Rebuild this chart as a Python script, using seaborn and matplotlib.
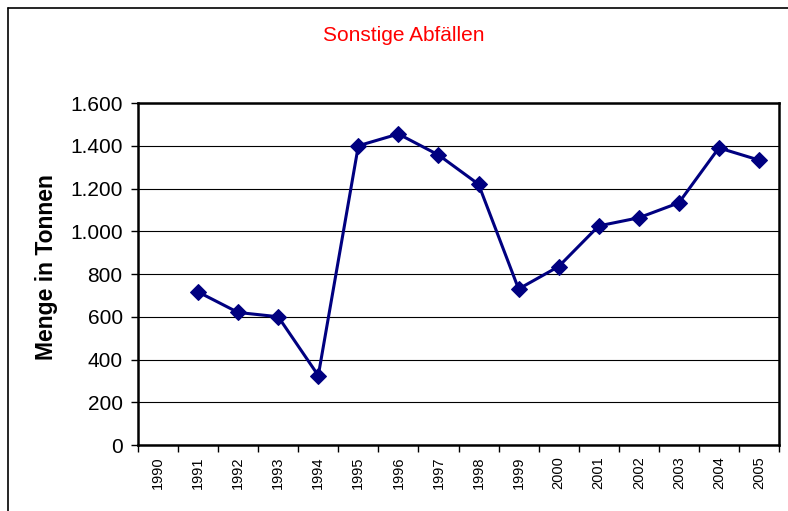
import matplotlib

matplotlib.use("Agg")
import numpy as np
import pandas as pd
import seaborn as sns
from matplotlib import pyplot as plt
from matplotlib.lines import Line2D
from matplotlib.ticker import FixedLocator, FuncFormatter

# Data
all_years = list(range(1990, 2006))
years = [1991, 1992, 1993, 1994, 1995, 1996, 1997, 1998,
         1999, 2000, 2001, 2002, 2003, 2004, 2005]
tonnen = [716, 620, 600, 325, 1400, 1455, 1357, 1220,
          730, 835, 1025, 1063, 1133, 1390, 1333]
y_ticks = [0, 200, 400, 600, 800, 1000, 1200, 1400, 1600]

sns.set_theme(style="white")
plt.rcParams["font.family"] = ["Liberation Sans", "DejaVu Sans"]
plt.rcParams["text.color"] = "black"
plt.rcParams["axes.labelcolor"] = "black"
plt.rcParams["xtick.color"] = "black"
plt.rcParams["ytick.color"] = "black"

df = pd.DataFrame({"Jahr": years, "Menge": tonnen})

fig = plt.figure(figsize=(7.88, 5.11), dpi=100)
ax = fig.add_axes([138 / 788, 1 - 445 / 511, (779 - 138) / 788, (445 - 103) / 511])

sns.lineplot(data=df, x="Jahr", y="Menge", ax=ax, color="#000080",
             linewidth=2.2, marker="D", markersize=8.5,
             markeredgecolor="#000080", markerfacecolor="#000080")

ax.set_xlim(1989.5, 2005.5)
ax.set_ylim(0, 1600)

# y axis: German thousands separator, outward ticks
ax.yaxis.set_major_locator(FixedLocator(y_ticks))
ax.yaxis.set_major_formatter(FuncFormatter(lambda v, p: f"{int(v):,}".replace(",", ".")))
ax.tick_params(axis="y", which="major", direction="out", length=5, width=1,
               color="black", left=True, labelsize=15, pad=6)
ax.grid(axis="y", color="black", linewidth=0.8)
ax.set_axisbelow(True)

# x axis: tick marks between categories, labels at category centres
ax.set_xticks(np.arange(1989.5, 2006, 1))
ax.set_xticklabels([])
ax.set_xticks(all_years, minor=True)
ax.set_xticklabels([str(y) for y in all_years], minor=True, rotation=90, fontsize=10.5)
ax.tick_params(axis="x", which="major", direction="out", length=5, width=1,
               color="black", bottom=True)
ax.tick_params(axis="x", which="minor", length=0, pad=8)

for s in ax.spines.values():
    s.set_color("black")
    s.set_linewidth(1.8)

ax.set_xlabel("")
ax.set_ylabel("Menge in Tonnen", fontsize=16.5, fontweight="bold")
ax.yaxis.set_label_coords((58 - 138) / 641, (445 - 267) / 342)

fig.text(404 / 788, 1 - 35 / 511, "Sonstige Abfällen", color="red",
         fontsize=15, ha="center", va="center")

# outer chart frame (left and top edges visible)
fig.add_artist(Line2D([8 / 788, 8 / 788], [0, 1 - 8 / 511],
                      transform=fig.transFigure, color="black", linewidth=1.2))
fig.add_artist(Line2D([8 / 788, 1], [1 - 8 / 511, 1 - 8 / 511],
                      transform=fig.transFigure, color="black", linewidth=1.2))

fig.savefig("out.png", dpi=100)
